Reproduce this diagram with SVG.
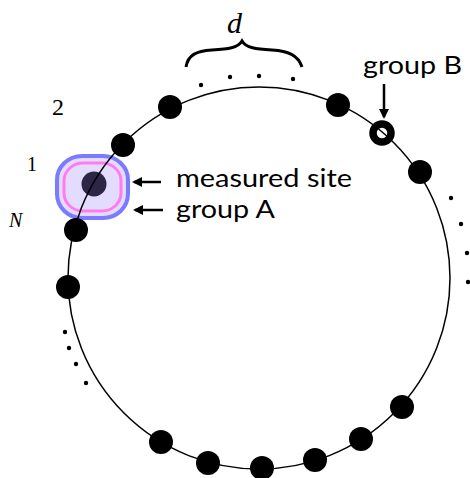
<svg xmlns="http://www.w3.org/2000/svg" width="470" height="478" viewBox="0 0 470 478">
<style>
.dot{fill:#000}
.lbl{font-family:"Lato","Open Sans",sans-serif;font-size:25px;fill:#000}
.num{font-family:"Liberation Serif","Times New Roman",serif;fill:#000}
.arr{stroke:#000;stroke-width:2.5;fill:none}
</style>
<defs>
<marker id="ah" markerWidth="10" markerHeight="10" refX="8" refY="5" orient="auto" markerUnits="userSpaceOnUse">
<path d="M0,0 L10,5 L0,10 Z" fill="#000"/>
</marker>
</defs>
<rect width="470" height="478" fill="#fff"/>
<g id="groupA">
<rect x="57" y="156" width="71" height="62" rx="25" ry="24" fill="#e4dcff" stroke="#7b7bff" stroke-width="4"/>
<rect x="64" y="163" width="57" height="48" rx="19" ry="18" fill="none" stroke="#ff7cee" stroke-width="3"/>
</g>
<g id="measured-site"><circle cx="94" cy="184" r="12.5" fill="#2d2646"/></g>
<g id="connectors">
<circle cx="259" cy="278" r="191" fill="none" stroke="#000" stroke-width="1.5"/>
<line class="arr" x1="161" y1="182" x2="134" y2="182" marker-end="url(#ah)"/>
<line class="arr" x1="163" y1="210" x2="135" y2="210" marker-end="url(#ah)"/>
<line class="arr" x1="384" y1="84" x2="384" y2="117" marker-end="url(#ah)"/>
<path d="M186,67 C188,55 196,51 212,50 C228,49 238,48 242,41 C246,48 256,49 272,50 C288,51 298,55 302,67" fill="none" stroke="#000" stroke-width="3"/>
</g>
<g id="sites">
<circle class="dot" cx="170" cy="107" r="12"/>
<circle class="dot" cx="123" cy="145" r="12"/>
<circle class="dot" cx="76" cy="230" r="12"/>
<circle class="dot" cx="68" cy="287" r="12"/>
<circle class="dot" cx="338" cy="105" r="12"/>
<circle class="dot" cx="420" cy="172" r="12"/>
<circle class="dot" cx="402" cy="407" r="12"/>
<circle class="dot" cx="361" cy="439" r="12"/>
<circle class="dot" cx="315" cy="460" r="12"/>
<circle class="dot" cx="262" cy="468" r="12"/>
<circle class="dot" cx="208" cy="463" r="12"/>
<circle class="dot" cx="161" cy="442" r="12"/>
</g>
<g id="groupB"><circle cx="382" cy="133" r="9" fill="none" stroke="#000" stroke-width="7.5"/></g>
<g id="ellipses">
<circle cx="201" cy="85" r="2.2"/><circle cx="230" cy="77" r="2.2"/><circle cx="259" cy="76" r="2.2"/><circle cx="293" cy="79" r="2.2"/>
<circle cx="451" cy="198" r="2.2"/><circle cx="461" cy="224" r="2.2"/><circle cx="467" cy="253" r="2.2"/><circle cx="468" cy="282" r="2.2"/>
<circle cx="65" cy="332" r="2.2"/><circle cx="69" cy="348" r="2.2"/><circle cx="76" cy="364" r="2.2"/><circle cx="86" cy="383" r="2.2"/>
</g>
<g id="labels">
<text class="lbl" x="176" y="187" textLength="176" lengthAdjust="spacingAndGlyphs">measured site</text>
<text class="lbl" x="176" y="218" textLength="99" lengthAdjust="spacingAndGlyphs">group A</text>
<text class="lbl" x="363" y="74" textLength="99" lengthAdjust="spacingAndGlyphs">group B</text>
<text class="num" x="227" y="33" font-size="30" font-style="italic">d</text>
<text class="num" x="52" y="115" font-size="24">2</text>
<text class="num" x="27" y="171" font-size="20">1</text>
<text class="num" x="9" y="227" font-size="20" font-style="italic">N</text>
</g>
</svg>
